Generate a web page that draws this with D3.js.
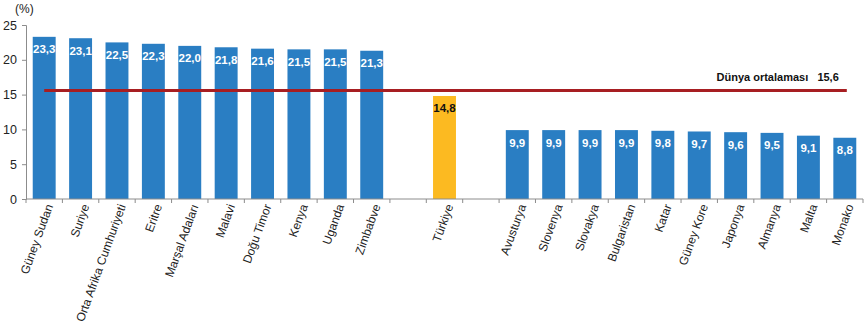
<!DOCTYPE html>
<html>
<head>
<meta charset="utf-8">
<script src="https://cdn.jsdelivr.net/npm/d3@7"></script>
<style>
  body { margin: 0; background: #fff; }
  svg text { font-family: "Liberation Sans", Arial, sans-serif; }
</style>
</head>
<body>
<svg id="chart"></svg>
<script>
// categories, blanks ("_gap") are the gaps around Türkiye
let countries = ["Güney Sudan", "Suriye", "Orta Afrika Cumhuriyeti", "Eritre", "Marşal Adaları",
    "Malavi", "Doğu Timor", "Kenya", "Uganda", "Zimbabve", "_gap1", "Türkiye", "_gap2",
    "Avusturya", "Slovenya", "Slovakya", "Bulgaristan", "Katar", "Güney Kore", "Japonya",
    "Almanya", "Malta", "Monako"];
let values = [23.3, 23.1, 22.5, 22.3, 22.0, 21.8, 21.6, 21.5, 21.5, 21.3, null, 14.8, null,
    9.9, 9.9, 9.9, 9.9, 9.8, 9.7, 9.6, 9.5, 9.1, 8.8];
let yTicks = [0, 5, 10, 15, 20, 25];
let worldAvg = 15.6;
let worldLabel = "Dünya ortalaması";

function drawChart() {
    let width = 868, height = 331;
    let margin = {left: 26, right: 5, top: 25, bottom: 132};
    let svg = d3.select("#chart").attr("width", width).attr("height", height);

    let x = d3.scaleBand()
        .domain(countries)
        .range([margin.left, width - margin.right])
        .paddingInner(0.37)
        .paddingOuter(0.185);
    let y = d3.scaleLinear()
        .domain([0, 25])
        .range([height - margin.bottom, margin.top]);

    let data = countries.map((c, i) => ({name: c, value: values[i]}))
        .filter(d => d.value !== null);

    // bars
    svg.append("g").selectAll("rect").data(data)
        .enter().append("rect")
        .attr("x", d => x(d.name))
        .attr("width", x.bandwidth())
        .attr("y", d => y(d.value))
        .attr("height", d => y(0) - y(d.value))
        .attr("fill", d => d.name === "Türkiye" ? "#FCBA21" : "#2A7EC3");

    // value labels
    svg.append("g").selectAll("text").data(data)
        .enter().append("text")
        .attr("x", d => x(d.name) + x.bandwidth() / 2)
        .attr("y", d => y(d.value) + 16.5)
        .attr("text-anchor", "middle")
        .attr("font-size", "11.5px")
        .attr("font-weight", "bold")
        .attr("fill", d => d.name === "Türkiye" ? "#111" : "#fff")
        .text(d => d.value.toFixed(1).replace(".", ","));

    // y axis
    let yAxis = d3.axisLeft(y).tickValues(yTicks).tickSize(4).tickPadding(5);
    let gy = svg.append("g")
        .attr("transform", "translate(" + margin.left + ",0)")
        .call(yAxis);
    gy.select(".domain").attr("stroke", "#8c8c8c");
    gy.selectAll(".tick line").attr("stroke", "#8c8c8c");
    gy.selectAll(".tick text").attr("font-size", "12.5px").attr("fill", "#222")
        .style("font-family", "'Liberation Sans', Arial, sans-serif");

    svg.append("text")
        .attr("x", 15)
        .attr("y", 13)
        .attr("font-size", "12px")
        .attr("fill", "#222")
        .text("(%)");

    // x axis: line + ticks at band boundaries
    let x0 = margin.left, x1 = width - margin.right;
    let step = x.step();
    let gx = svg.append("g");
    gx.append("line")
        .attr("x1", x0).attr("x2", x1)
        .attr("y1", y(0)).attr("y2", y(0))
        .attr("stroke", "#8c8c8c");
    let bounds = d3.range(countries.length + 1).map(i => x0 + i * step);
    gx.selectAll("line.tk").data(bounds)
        .enter().append("line")
        .attr("class", "tk")
        .attr("x1", d => d).attr("x2", d => d)
        .attr("y1", y(0)).attr("y2", y(0) + 4)
        .attr("stroke", "#8c8c8c");

    // rotated category labels
    gx.selectAll("text").data(countries.filter(c => c.charAt(0) !== "_"))
        .enter().append("text")
        .attr("transform", d => "translate(" + (x(d) + x.bandwidth() / 2 + 9) + "," + (y(0) + 7) + ") rotate(-70)")
        .attr("text-anchor", "end")
        .attr("font-size", "12px")
        .attr("fill", "#222")
        .text(d => d);

    // world average line
    let first = countries[0], last = countries[countries.length - 1];
    svg.append("line")
        .attr("x1", x(first) + x.bandwidth() / 2)
        .attr("x2", x(last) + x.bandwidth() / 2 + 2)
        .attr("y1", y(worldAvg)).attr("y2", y(worldAvg))
        .attr("stroke", "#A71E22")
        .attr("stroke-width", 3);

    svg.append("text")
        .attr("x", x(last) + x.bandwidth() / 2 - 6)
        .attr("y", y(worldAvg) - 9)
        .attr("text-anchor", "end")
        .attr("font-size", "11px")
        .attr("font-weight", "bold")
        .attr("fill", "#111")
        .attr("xml:space", "preserve")
        .text(worldLabel + "   " + worldAvg.toFixed(1).replace(".", ","));
}

drawChart();
</script>
</body>
</html>
